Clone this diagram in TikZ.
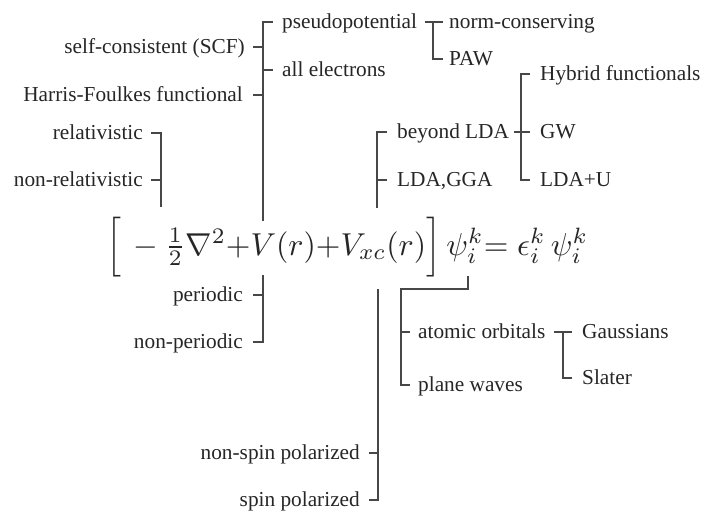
\documentclass[tikz,border=0pt]{standalone}
\usepackage[no-math]{fontspec}
\usepackage{amsmath}
\usepackage{graphicx}
\newfontfamily\labfont{Liberation Serif}
\begin{document}
\begin{tikzpicture}[x=1pt,y=-1pt,
  lab/.style={font=\labfont\fontsize{21.3}{24}\selectfont, text=black!85, inner sep=0pt, text height=15pt, text depth=2pt},
  labl/.style={lab, anchor=east},
  labr/.style={lab, anchor=west},
  br/.style={draw=black!72, line width=1.1pt}]
\useasboundingbox[fill=white] (0,0) rectangle (705,512);
% labels
\node[labl] (scf) at (245,47) {self-consistent (SCF)};
\node[labl] (hf) at (243,95) {Harris-Foulkes functional};
\node[labr] (pp) at (282,22) {pseudopotential};
\node[labr] (ae) at (282,70) {all electrons};
\node[labr] (nc) at (449,22) {norm-conserving};
\node[labr] (paw) at (449,59) {PAW};
\node[labl] (rel) at (143,133) {relativistic};
\node[labl] (nrel) at (143,180) {non-relativistic};
\node[labr] (blda) at (397,132) {beyond LDA};
\node[labr] (lda) at (397,180) {LDA,GGA};
\node[labr] (hyb) at (540,74) {Hybrid functionals};
\node[labr] (gw) at (540,132) {GW};
\node[labr] (ldau) at (540,180) {LDA+U};
\node[labl] (per) at (243,295) {periodic};
\node[labl] (nper) at (243,342) {non-periodic};
\node[labl] (nsp) at (360,453) {non-spin polarized};
\node[labl] (sp) at (360,500) {spin polarized};
\node[labr] (ao) at (418,332) {atomic orbitals};
\node[labr] (pw) at (418,385) {plane waves};
\node[labr] (gau) at (582,332) {Gaussians};
\node[labr] (sla) at (582,378) {Slater};
% equation
\node[inner sep=0pt, anchor=base west, text=black!85] (eq) at (106,255)
  {\resizebox{482pt}{!}{$\vcenter{\hbox{\scalebox{1}[1.05]{$\Big[$}}}\,{}-\tfrac{1}{2}\nabla^2{+}V(r){+}V_{xc}(r)\vcenter{\hbox{\scalebox{1}[1.05]{$\Big]$}}}\,\psi_i^k{=}\;\epsilon_i^k\,\psi_i^k$}};
% anchor coordinates
\coordinate (m2) at (263,221);
\coordinate (p1) at (433,22);
\coordinate (r2) at (161,207);
\coordinate (l2) at (377,208);
\coordinate (b1) at (521,0);
\coordinate (q1) at (263,275);
\coordinate (s1) at (378,289);
\coordinate (psi) at (468,276);
\coordinate (k1) at (401,289);
\coordinate (a1) at (563,0);
% main potential tree
\draw[br] ([xshift=-9pt]pp.west) -| (m2);
\draw[br] ([xshift=-9pt]ae.west) -- (ae.west -| m2);
\draw[br] ([xshift=8pt]scf.east) -- (scf.east -| m2);
\draw[br] ([xshift=10pt]hf.east) -- (hf.east -| m2);
% pseudopotential subtree
\draw[br] ([xshift=8pt]pp.east) -- ([xshift=-6pt]nc.west);
\draw[br] (p1) |- ([xshift=-6pt]paw.west);
% relativistic
\draw[br] ([xshift=8pt]rel.east) -| (r2);
\draw[br] ([xshift=8pt]nrel.east) -- (nrel.east -| r2);
% LDA
\draw[br] ([xshift=-10pt]blda.west) -| (l2);
\draw[br] ([xshift=-10pt]lda.west) -- (lda.west -| l2);
% beyond LDA subtree
\draw[br] ([xshift=5pt]blda.east) -- ([xshift=-10pt]gw.west);
\draw[br] ([xshift=-10pt]hyb.west) -- (hyb.west -| b1) -- (ldau.west -| b1) -- ([xshift=-10pt]ldau.west);
% periodic
\draw[br] (q1) |- ([xshift=10pt]nper.east);
\draw[br] ([xshift=10pt]per.east) -- (per.east -| q1);
% spin
\draw[br] (s1) |- ([xshift=9pt]sp.east);
\draw[br] ([xshift=9pt]nsp.east) -- (nsp.east -| s1);
% basis
\draw[br] (psi) |- (k1) |- ([xshift=-8pt]pw.west);
\draw[br] ([xshift=-8pt]ao.west) -- (ao.west -| k1);
% atomic orbitals subtree
\draw[br] ([xshift=8pt]ao.east) -- ([xshift=-10pt]gau.west);
\draw[br] (gau.west -| a1) |- ([xshift=-10pt]sla.west);
\end{tikzpicture}
\end{document}
